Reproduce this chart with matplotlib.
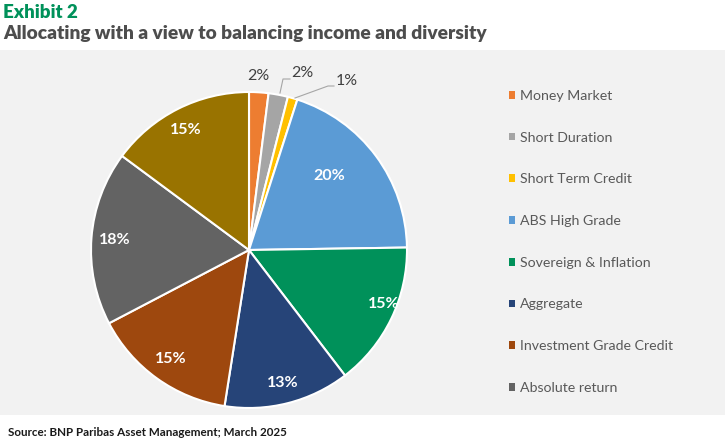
import numpy as np
import matplotlib.pyplot as plt
from matplotlib.patches import Rectangle

# allocation data
categories = ["Money Market", "Short Duration", "Short Term Credit", "ABS High Grade",
              "Sovereign & Inflation", "Aggregate", "Investment Grade Credit",
              "Absolute return", "Other"]
weights = [2, 2, 1, 20, 15, 13, 15, 18, 15]
pct_labels = ["2%", "2%", "1%", "20%", "15%", "13%", "15%", "18%", "15%"]

colors = ["#ED7D31", "#A5A5A5", "#FFC000", "#5B9BD5", "#00915A",
          "#264478", "#9E480E", "#636363", "#997300"]

W, H = 725, 442
fig = plt.figure(figsize=(W / 100, H / 100), dpi=100)
fig.patch.set_facecolor("white")

# grey panel
fig.patches.append(Rectangle((0, (H - 415) / H), 1, (415 - 50) / H,
                             transform=fig.transFigure, facecolor="#F2F2F2",
                             edgecolor="none", zorder=-5))

fig.text(3 / W, 1 - 12 / H, "Exhibit 2", color="#00915A", fontsize=13.5,
         fontweight="heavy", va="center", family="Lato")
fig.text(3 / W, 1 - 33 / H, "Allocating with a view to balancing income and diversity",
         color="#4D4D4D", fontsize=13.8, fontweight="heavy", va="center", family="Lato")
fig.text(8 / W, 1 - 432 / H, "Source: BNP Paribas Asset Management; March 2025",
         color="#1A1A1A", fontsize=8.4, fontweight="bold", va="center", family="Lato")

cx, cy, r = 249, 250, 158
box = 165
ax = fig.add_axes([(cx - box) / W, (H - cy - box) / H, 2 * box / W, 2 * box / H])
ax.set_zorder(2)
rad = r / box

wedges, _ = ax.pie(weights, colors=colors, startangle=90, counterclock=False,
                   radius=rad, wedgeprops=dict(edgecolor="white", linewidth=1.5))
ax.set_xlim(-1, 1)
ax.set_ylim(-1, 1)
ax.axis("off")

# label distance / angle offset per wedge (Excel "best fit" look)
dist = [1.13, 1.13, 1.13, 0.69, 0.92, 0.87, 0.85, 0.85, 0.86]
shift = [0, 0, 0, 6, 4, 0, 0, 0, 1]
for i, w in enumerate(wedges):
    if i < 3:
        continue
    ang = np.deg2rad((w.theta1 + w.theta2) / 2 + shift[i])
    x, y = np.cos(ang) * rad * dist[i], np.sin(ang) * rad * dist[i]
    ax.text(x, y, pct_labels[i], color="white", fontsize=11.5, fontweight="bold",
            ha="center", va="center", family="Lato")

# small slices: labels outside
def px(xp, yp):
    return (xp - cx) / box, (cy - yp) / box

ax.text(*px(258, 76), pct_labels[0], color="#404040", fontsize=11.5,
        ha="center", va="center", family="Lato")
ax.text(*px(302, 73), pct_labels[1], color="#404040", fontsize=11.5,
        ha="center", va="center", family="Lato")
ax.text(*px(347, 81), pct_labels[2], color="#404040", fontsize=11.5,
        ha="center", va="center", family="Lato")
for pts in ([(280, 93), (283, 79), (290, 79)], [(295, 98), (328, 86), (334, 86)]):
    xs, ys = zip(*[px(a, b) for a, b in pts])
    ax.plot(xs, ys, color="#A6A6A6", lw=0.8, clip_on=False)

leg = fig.legend(wedges[:8], categories[:8], loc="upper left",
                 bbox_to_anchor=(496 / W, 1 - 77 / H), frameon=False,
                 handlelength=0.45, handleheight=0.45, handletextpad=0.35,
                 labelspacing=2.1, prop=dict(family="Lato", size=10.2))
for t in leg.get_texts():
    t.set_color("#595959")
for h in leg.legend_handles:
    h.set_edgecolor("none")

fig.savefig("out.png", dpi=100, facecolor=fig.get_facecolor())
